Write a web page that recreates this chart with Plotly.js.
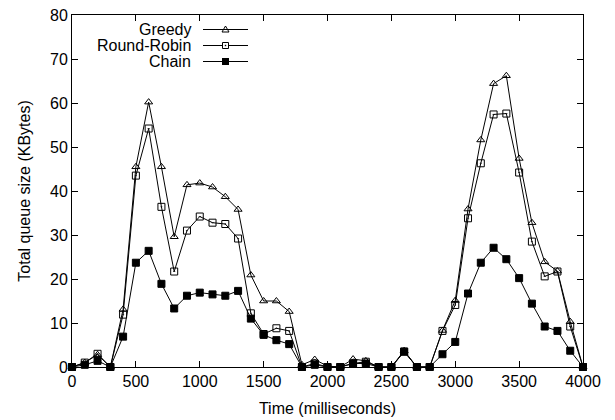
<!DOCTYPE html>
<html>
<head>
<meta charset="utf-8">
<script src="https://cdn.plot.ly/plotly-3.0.1.min.js"></script>
<style>html,body{margin:0;padding:0;background:#fff;}#chart{width:615px;height:420px;}</style>
</head>
<body>
<div id="chart"></div>
<script>
const timeMs = [0,100,200,300,400,500,600,700,800,900,1000,1100,1200,1300,1400,1500,1600,1700,1800,1900,2000,2100,2200,2300,2400,2500,2600,2700,2800,2900,3000,3100,3200,3300,3400,3500,3600,3700,3800,3900,4000];
const greedy = [0,1.0,2.8,0,13.1,45.5,60.2,45.5,29.6,41.4,41.8,40.9,38.7,35.8,20.9,15.0,15.0,12.6,0.5,1.7,0.2,0,1.8,1.4,0,0,3.7,0,0,8.3,15.1,35.9,51.6,64.4,66.2,47.4,32.8,23.9,21.8,10.3,0];
const roundRobin = [0,1.0,3.0,0,11.9,43.5,54.2,36.4,21.7,31.0,34.2,32.8,32.5,29.2,12.2,7.5,8.8,8.2,0,0.8,0,0,0.8,1.2,0,0,3.5,0,0,8.2,14.1,33.8,46.3,57.4,57.6,44.2,28.5,20.6,21.7,9.2,0];
const chain = [0,0.5,1.4,0,6.9,23.7,26.4,18.9,13.3,16.2,16.9,16.5,16.2,17.3,11.0,7.3,6.1,5.2,0,0.5,0,0,0.8,0.8,0,0,3.5,0,0,2.9,5.7,16.7,23.7,27.1,24.5,20.2,14.4,9.2,8.2,3.7,0];
const seriesNames = ["Greedy","Round-Robin","Chain"];
const xTicks = [0,500,1000,1500,2000,2500,3000,3500,4000];
const yTicks = [0,10,20,30,40,50,60,70,80];

const FONT = "Liberation Sans, Arial, Helvetica, sans-serif";
const series = [greedy, roundRobin, chain];
const symbols = ["triangle-up-open","square-open-dot","square"];

const traces = series.map((ys,i)=>({
  x: timeMs, y: ys, type: "scatter", mode: "lines+markers",
  name: seriesNames[i], showlegend: false, cliponaxis: false,
  line: {color: "#000", width: 1},
  marker: {symbol: symbols[i], size: 7, color: "#000", line: {color: "#000", width: 1}}
}));

// Legend (gnuplot style: text on the left, sample on the right), in paper coordinates
const W = 511, H = 352;
const px = p => (p - 72) / W;
const py = p => (367 - p) / H;
const rowY = [29.5, 45.5, 61.5];
const annotations = seriesNames.map((n,i)=>({
  xref: "paper", yref: "paper", x: px(193), y: py(rowY[i]),
  xanchor: "right", yanchor: "middle", showarrow: false,
  text: n, font: {family: FONT, size: 16, color: "#000"}
}));
const shapes = [];
rowY.forEach((yy,i)=>{
  shapes.push({type: "line", xref: "paper", yref: "paper", x0: px(203), x1: px(248), y0: py(yy), y1: py(yy),
               line: {color: "#000", width: 1}});
  const cx = 225.5;
  if (i === 0) {
    const p = `M${px(cx-3.5)},${py(yy+2.5)} L${px(cx+3.5)},${py(yy+2.5)} L${px(cx)},${py(yy-3.5)} Z`;
    shapes.push({type: "path", xref: "paper", yref: "paper", path: p, line: {color: "#000", width: 1}, fillcolor: "rgba(0,0,0,0)"});
  } else if (i === 1) {
    shapes.push({type: "rect", xref: "paper", yref: "paper", x0: px(cx-3), x1: px(cx+3), y0: py(yy+3), y1: py(yy-3),
                 line: {color: "#000", width: 1}, fillcolor: "#fff"});
    shapes.push({type: "rect", xref: "paper", yref: "paper", x0: px(cx-0.7), x1: px(cx+0.7), y0: py(yy+0.7), y1: py(yy-0.7),
                 line: {width: 0}, fillcolor: "#000"});
  } else {
    shapes.push({type: "rect", xref: "paper", yref: "paper", x0: px(cx-3.5), x1: px(cx+3.5), y0: py(yy+3.5), y1: py(yy-3.5),
                 line: {width: 0}, fillcolor: "#000"});
  }
});

const axisCommon = {
  showgrid: false, zeroline: false, showline: true, linecolor: "#000", linewidth: 1,
  mirror: "allticks", ticks: "inside", ticklen: 6, tickcolor: "#000", tickwidth: 1,
  tickfont: {family: FONT, size: 16, color: "#000"}
};

const layout = {
  width: 615, height: 420,
  margin: {l: 72, r: 32, t: 15, b: 53},
  paper_bgcolor: "#fff", plot_bgcolor: "#fff",
  showlegend: false,
  xaxis: Object.assign({}, axisCommon, {range: [0,4000], tickvals: xTicks, ticktext: xTicks.map(String),
    title: {text: "Time (milliseconds)", font: {family: FONT, size: 16, color: "#000"}, standoff: 13}}),
  yaxis: Object.assign({}, axisCommon, {range: [0,80], tickvals: yTicks, ticktext: yTicks.map(String),
    title: {text: "Total queue size (KBytes)", font: {family: FONT, size: 16, color: "#000"}, standoff: 15}}),
  annotations: annotations,
  shapes: shapes
};

Plotly.newPlot("chart", traces, layout, {staticPlot: true, displayModeBar: false});
</script>
</body>
</html>
